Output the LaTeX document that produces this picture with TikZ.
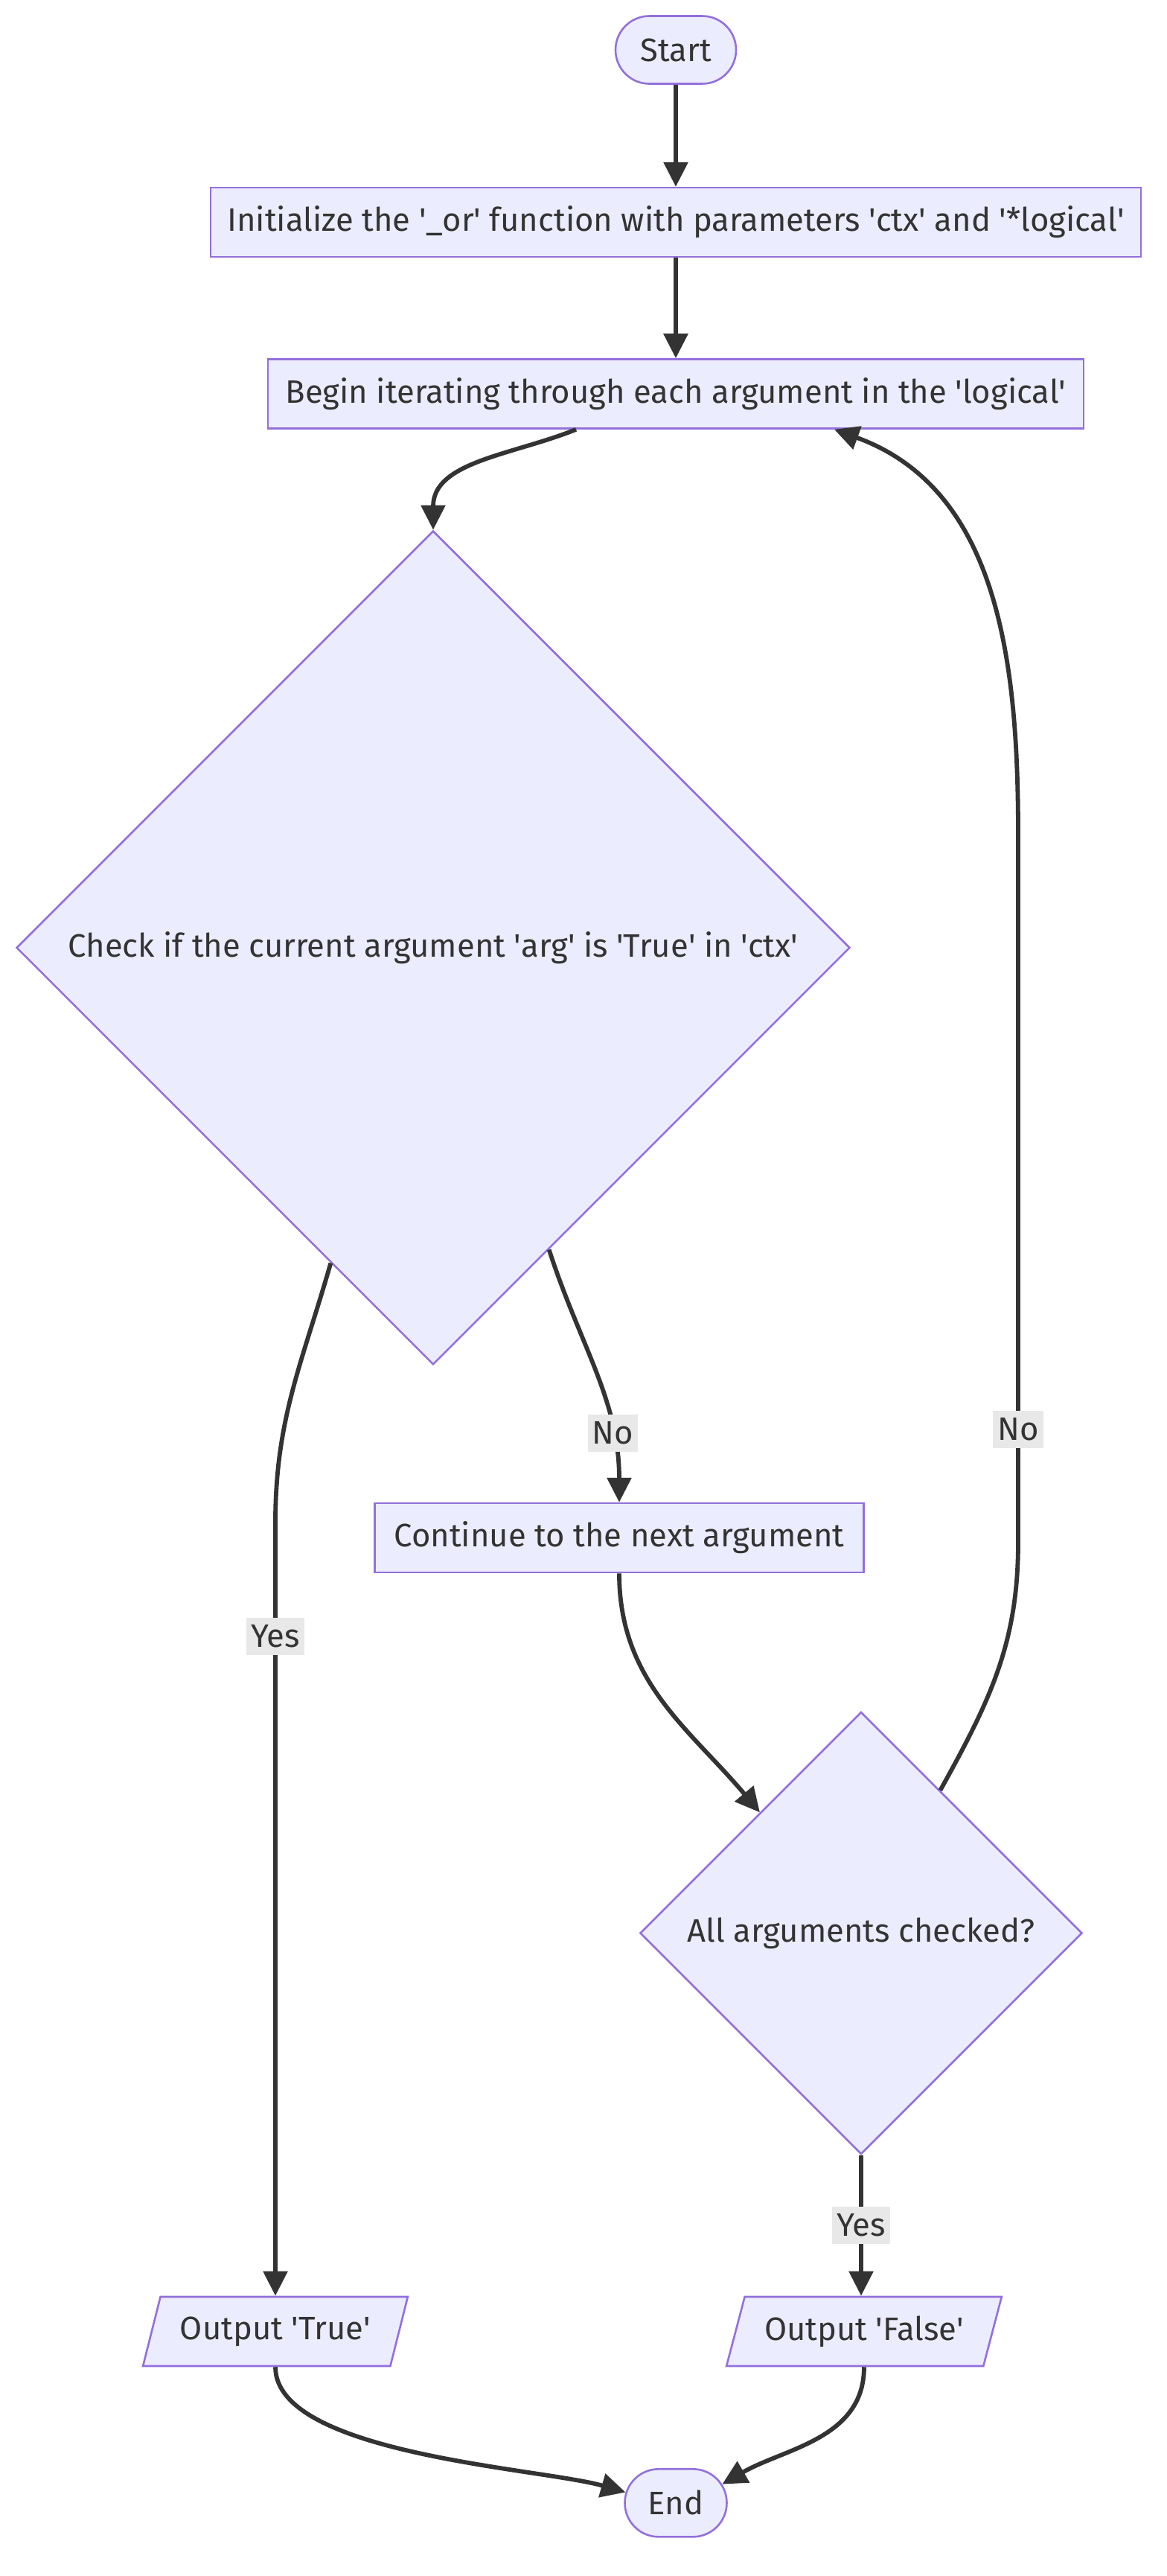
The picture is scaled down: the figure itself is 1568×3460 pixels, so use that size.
\documentclass[tikz,border=0pt]{standalone}
\usepackage{fontspec}
\usepackage{tikz}
\usetikzlibrary{positioning,shapes.geometric,shapes.misc,arrows.meta,calc}
\setmainfont{Fira Sans}
\definecolor{nodefill}{RGB}{236,236,255}
\definecolor{nodeline}{RGB}{147,112,219}
\definecolor{fontgray}{RGB}{51,51,51}
\definecolor{lblgray}{RGB}{232,232,232}
\newcommand{\sq}{\textquotesingle}
\newcommand{\flowfont}{\fontsize{21.8}{26}\selectfont}

\begin{document}
\begin{tikzpicture}[x=0.5pt, y=0.5pt, >={Triangle[length=16.5pt, width=16pt]},
			base/.style={draw=nodeline, fill=nodefill, line width=1.3pt, text=fontgray, font=\flowfont, inner sep=0pt},
			terminal/.style={base, rounded rectangle, minimum height=45.5pt},
			procbox/.style={base, rectangle, minimum height=46.5pt},
			decision/.style={base, diamond, aspect=1},
			iobox/.style={base, trapezium, trapezium left angle=64, trapezium right angle=116, trapezium stretches=true, minimum height=46.5pt},
			flowLine/.style={->, line width=2.9pt, color=fontgray},
			edgelbl/.style={fill=lblgray, text=fontgray, font=\flowfont, inner xsep=3pt, inner ysep=0pt, minimum height=25pt}
			]
			\useasboundingbox (0,0) rectangle (1568,-3460);
			\node[terminal, minimum width=81pt](start) at (908,-67) {Start};
			\node[procbox, minimum width=625pt](init) [below = 68.5pt of start] {Initialize the \sq\_or\sq{} function with parameters \sq ctx\sq{} and \sq*logical\sq};
			\node[procbox, minimum width=548pt](begin) [below = 67.4pt of init] {Begin iterating through each argument in the \sq logical\sq};
			\node[decision, minimum width=560pt, minimum height=560pt, xshift=-163pt](check) [below = 67.4pt of begin] {Check if the current argument \sq arg\sq{} is \sq True\sq{} in \sq ctx\sq};
			\node[procbox, minimum width=328.5pt, xshift=125pt](next) [below = 91.8pt of check] {Continue to the next argument};
			\node[decision, minimum width=297pt, minimum height=297pt, xshift=162.5pt](decide) [below = 92.4pt of next] {All arguments checked?};
			\node[iobox, minimum width=185pt, xshift=2pt](outfalse) [below = 94.4pt of decide] {Output \sq False\sq};
			\node[iobox, minimum width=178pt, xshift=-106pt](outtrue) at (outfalse -| check) {Output \sq True\sq};
			\node[terminal, minimum width=68.5pt, anchor=north](stop) at ([yshift=-67.9pt]outfalse.south -| start) {End};
			
			\coordinate (yesbend) at (370,-2045);
			\coordinate (loopbot) at (1368,-2072);
			\coordinate (looptop) at (1368,-1120);
			
			\draw [flowLine] (start) -- (init);
			\draw [flowLine] (init) -- (begin);
			\draw [flowLine] ([xshift=-67pt]begin.south) to[out=-158, in=90] (check.north);
			\draw [flowLine] (check.-69) to[out=-72, in=90] node[edgelbl, pos=0.75]{No} (next.north);
			\draw [flowLine] (check.252) to[out=-106, in=90] (yesbend) -- node[edgelbl, pos=0.147]{Yes} (outtrue.north);
			\draw [flowLine] (next.south) to[out=-90, in=130] (decide.130);
			\draw [flowLine] (decide.61) to[out=61, in=-90] (loopbot) -- node[edgelbl, pos=0.16]{No} (looptop) to[out=90, in=-20] ([xshift=106.5pt]begin.south);
			\draw [flowLine] (decide.south) -- node[edgelbl]{Yes} ([xshift=-2pt]outfalse.north);
			\draw [flowLine] (outtrue.south) to[out=-90, in=164, looseness=0.6] (stop.168);
			\draw [flowLine] (outfalse.south) to[out=-90, in=30] (stop.22);
			\end{tikzpicture}
\end{document}
